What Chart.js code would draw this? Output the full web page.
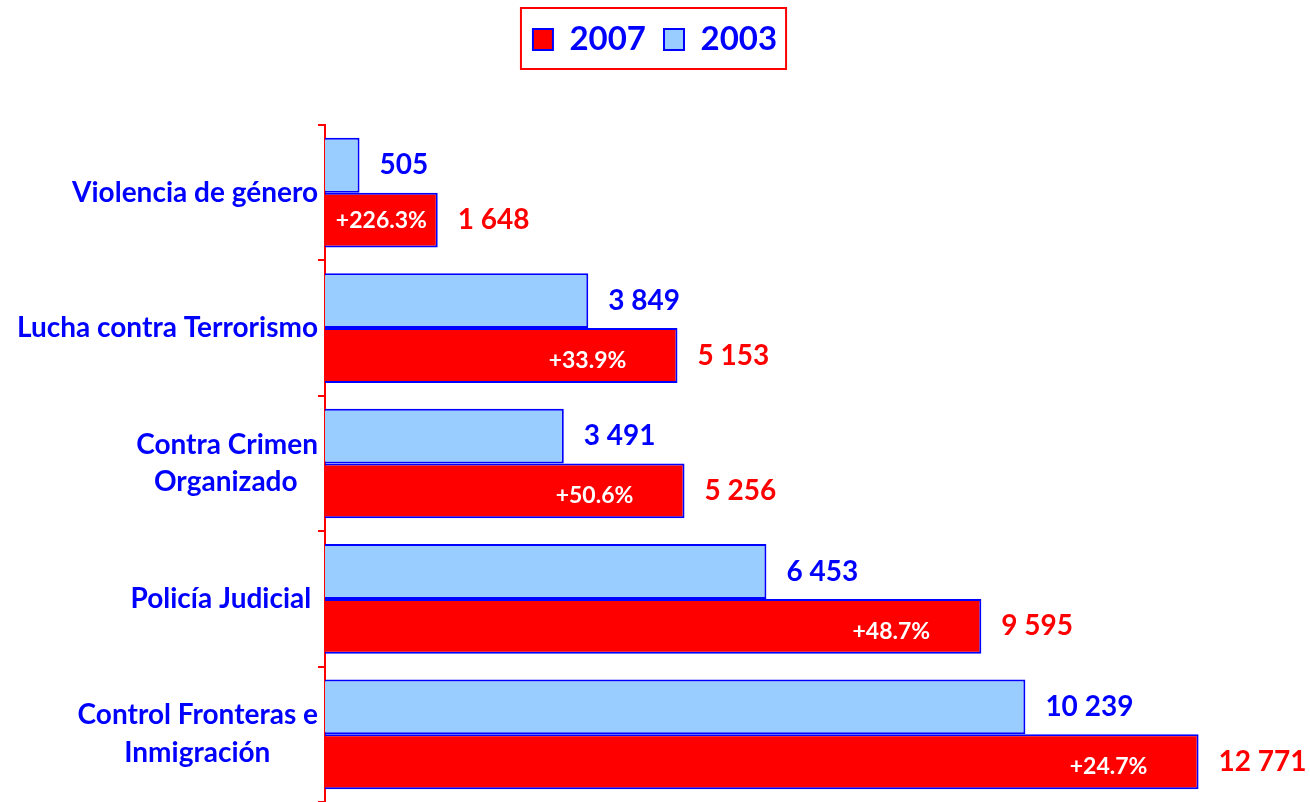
<!DOCTYPE html>
<html>
<head>
<meta charset="utf-8">
<script src="https://cdn.jsdelivr.net/npm/chart.js@4.4.0/dist/chart.umd.min.js"></script>
<style>
  body { margin: 0; background: #fff; }
</style>
</head>
<body>
<canvas id="myChart" width="1310" height="802"></canvas>
<script>
// data
const categories = [
  'Violencia de género',
  'Lucha contra Terrorismo',
  ['Contra Crimen', 'Organizado   '],
  'Policía Judicial ',
  ['Control Fronteras e', 'Inmigración       ']
];
const values2003 = [505, 3849, 3491, 6453, 10239];
const values2007 = [1648, 5153, 5256, 9595, 12771];
const changes = ['+226.3%', '+33.9%', '+50.6%', '+48.7%', '+24.7%'];

const BLUE = '#0000ff';
const RED = '#ff0000';
const FONT = 'Lato';

function fmt(n) {
  return String(n).replace(/\B(?=(\d{3})+(?!\d))/g, ' ');
}

// value labels next to the bars + % change inside red bars
const barLabels = {
  id: 'barLabels',
  afterDatasetsDraw(chart) {
    const ctx = chart.ctx;
    ctx.save();
    ctx.textBaseline = 'middle';
    chart.data.datasets.forEach((ds, di) => {
      const meta = chart.getDatasetMeta(di);
      meta.data.forEach((bar, i) => {
        ctx.font = 'bold 28px ' + FONT;
        ctx.fillStyle = di === 0 ? BLUE : RED;
        ctx.textAlign = 'left';
        ctx.fillText(fmt(ds.data[i]), bar.x + 20, bar.y);
        if (di === 1) {
          ctx.font = 'bold 23px ' + FONT;
          ctx.fillStyle = '#ffffff';
          ctx.textAlign = 'center';
          const mid = (bar.base + bar.x) / 2;
          const cx = Math.max(mid, bar.x - 90);
          const dy = i === 0 ? 0 : 5;
          ctx.fillText(changes[i], cx, bar.y + dy);
        }
      });
    });
    ctx.restore();
  }
};

// red frame round the legend
const legendFrame = {
  id: 'legendFrame',
  afterDraw(chart) {
    const boxes = chart.legend.legendHitBoxes;
    if (!boxes || !boxes.length) return;
    let l = Infinity, r = -Infinity, t = Infinity, b = -Infinity;
    boxes.forEach(h => {
      l = Math.min(l, h.left); r = Math.max(r, h.left + h.width);
      t = Math.min(t, h.top); b = Math.max(b, h.top + h.height);
    });
    const ctx = chart.ctx;
    ctx.save();
    ctx.strokeStyle = RED;
    ctx.lineWidth = 2;
    ctx.strokeRect(l - 12, t - 15, (r - l) + 21, (b - t) + 28);
    ctx.restore();
  }
};

new Chart(document.getElementById('myChart').getContext('2d'), {
  type: 'bar',
  data: {
    labels: categories,
    datasets: [
      {
        label: '2003',
        data: values2003,
        backgroundColor: '#99ccff',
        borderColor: BLUE,
        borderWidth: 2,
        categoryPercentage: 0.81,
        barPercentage: 1.0
      },
      {
        label: '2007',
        data: values2007,
        backgroundColor: RED,
        borderColor: BLUE,
        borderWidth: 2,
        categoryPercentage: 0.81,
        barPercentage: 1.0
      }
    ]
  },
  options: {
    indexAxis: 'y',
    responsive: false,
    animation: false,
    layout: {
      padding: { top: 5, right: 0, bottom: -10, left: 0 }
    },
    plugins: {
      legend: {
        display: true,
        position: 'top',
        reverse: true,
        labels: {
          color: BLUE,
          font: { family: FONT, size: 33, weight: 'bold' },
          boxWidth: 20,
          boxHeight: 21,
          padding: 18
        }
      },
      tooltip: { enabled: false }
    },
    scales: {
      x: {
        position: 'top',
        display: true,
        min: 0,
        max: 14400,
        grid: { display: false },
        border: { display: false },
        ticks: { display: false },
        afterFit(scale) {
          scale.height = 59;
          scale.paddingLeft = 0;
          scale.paddingRight = 0;
        }
      },
      y: {
        offset: true,
        border: { display: true, color: RED, width: 2 },
        grid: {
          offset: true,
          drawOnChartArea: false,
          drawTicks: true,
          tickLength: 7,
          color: RED,
          lineWidth: 2
        },
        ticks: {
          color: BLUE,
          padding: 0,
          font: { family: FONT, size: 28, weight: 'bold', lineHeight: 1.35 }
        },
        afterFit(scale) {
          scale.width = 325;
          scale.paddingTop = 0;
          scale.paddingBottom = 0;
        }
      }
    }
  },
  plugins: [barLabels, legendFrame]
});
</script>
</body>
</html>
